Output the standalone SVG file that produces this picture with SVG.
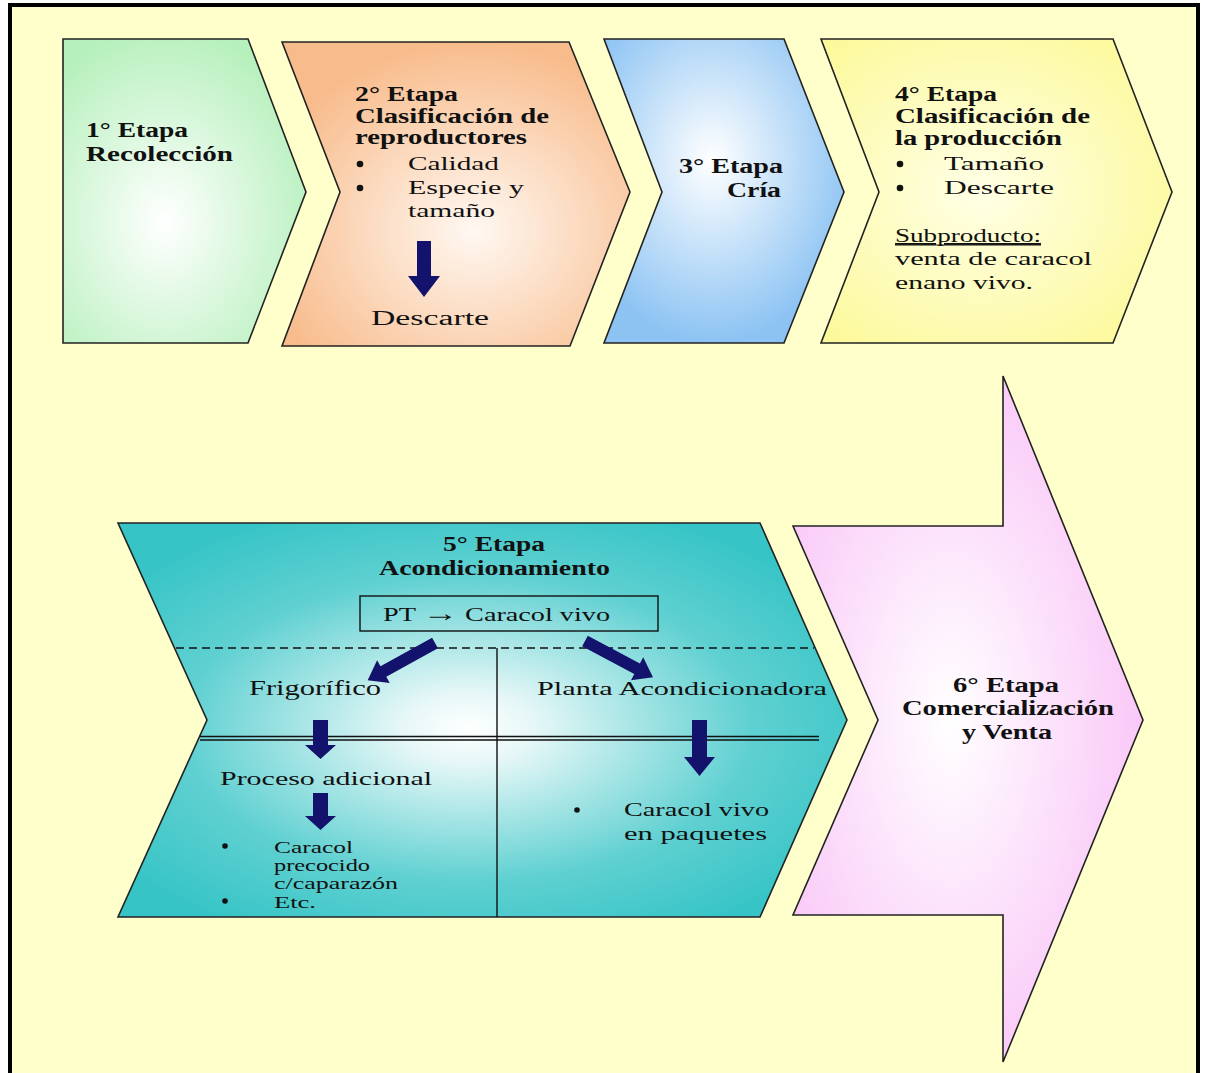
<svg xmlns="http://www.w3.org/2000/svg" width="1207" height="1073" viewBox="0 0 1207 1073">
<style>
.t{font-family:"Liberation Serif","Times New Roman",serif;fill:#111;}
.b{font-weight:bold;font-size:20px;}
.r{font-size:19px;}
.s{font-size:17px;}
.shape{stroke:#222;stroke-width:1.6;stroke-linejoin:miter;}
.arr{fill:#13136E;stroke:none;}
.ln{stroke:#111;stroke-width:1.4;fill:none;}
.dot{fill:#111;}
</style>
<defs>
<radialGradient id="gGreen" cx="0.42" cy="0.6" r="0.65">
<stop offset="0" stop-color="#FFFFFF"/><stop offset="1" stop-color="#B6F0BC"/>
</radialGradient>
<radialGradient id="gOrange" cx="0.55" cy="0.62" r="0.62">
<stop offset="0" stop-color="#FFF8F2"/><stop offset="1" stop-color="#F8BC8C"/>
</radialGradient>
<radialGradient id="gBlue" cx="0.45" cy="0.4" r="0.6">
<stop offset="0" stop-color="#FFFFFF"/><stop offset="1" stop-color="#8CC3F3"/>
</radialGradient>
<radialGradient id="gYellow" cx="0.45" cy="0.5" r="0.65">
<stop offset="0" stop-color="#FFFFE6"/><stop offset="1" stop-color="#FCF99A"/>
</radialGradient>
<radialGradient id="gTeal" cx="0.48" cy="0.52" r="0.6">
<stop offset="0" stop-color="#FFFFFF"/><stop offset="0.15" stop-color="#E6F7F7"/><stop offset="0.65" stop-color="#5FD0D1"/><stop offset="1" stop-color="#36C4C6"/>
</radialGradient>
<radialGradient id="gPink" cx="0.45" cy="0.5" r="0.6">
<stop offset="0" stop-color="#FFFFFF"/><stop offset="1" stop-color="#F9C3F7"/>
</radialGradient>
</defs>

<rect x="0" y="0" width="1207" height="1073" fill="#FFFFFF"/>
<g id="frame">
<rect x="10" y="5" width="1188" height="1080" fill="#FFFFCC" stroke="#000" stroke-width="4"/>
</g>

<g id="stage1">
<path class="shape" fill="url(#gGreen)" d="M63,39 H248 L306,192 L248,343 H63 Z"/>
<text class="t b" x="86" y="137" textLength="102" lengthAdjust="spacingAndGlyphs">1°  Etapa</text>
<text class="t b" x="86" y="161" textLength="147" lengthAdjust="spacingAndGlyphs">Recolección</text>
</g>

<g id="stage2">
<path class="shape" fill="url(#gOrange)" d="M282,42 H569 L630,192 L570,346 H282 L340,192 Z"/>
<text class="t b" x="355" y="101" textLength="103" lengthAdjust="spacingAndGlyphs">2°  Etapa</text>
<text class="t b" x="355" y="123" textLength="194" lengthAdjust="spacingAndGlyphs">Clasificación de</text>
<text class="t b" x="355" y="144" textLength="172" lengthAdjust="spacingAndGlyphs">reproductores</text>
<circle class="dot" cx="360" cy="164" r="3.3"/>
<text class="t r" x="408" y="170" textLength="91" lengthAdjust="spacingAndGlyphs">Calidad</text>
<circle class="dot" cx="360" cy="188" r="3.3"/>
<text class="t r" x="408" y="194" textLength="116" lengthAdjust="spacingAndGlyphs">Especie y</text>
<text class="t r" x="408" y="217" textLength="87" lengthAdjust="spacingAndGlyphs">tamaño</text>
<text class="t r" x="371" y="325" textLength="118" lengthAdjust="spacingAndGlyphs" style="font-size:20px">Descarte</text>
</g>

<g id="stage3">
<path class="shape" fill="url(#gBlue)" d="M604,39 H784 L844,192 L784,343 H604 L662,192 Z"/>
<text class="t b" x="679" y="173" textLength="104" lengthAdjust="spacingAndGlyphs">3°  Etapa</text>
<text class="t b" x="727" y="197" textLength="54" lengthAdjust="spacingAndGlyphs">Cría</text>
</g>

<g id="stage4">
<path class="shape" fill="url(#gYellow)" d="M821,39 H1113 L1172,192 L1113,343 H821 L879,192 Z"/>
<text class="t b" x="895" y="101" textLength="102" lengthAdjust="spacingAndGlyphs">4°  Etapa</text>
<text class="t b" x="895" y="123" textLength="195" lengthAdjust="spacingAndGlyphs">Clasificación de</text>
<text class="t b" x="895" y="145" textLength="167" lengthAdjust="spacingAndGlyphs">la producción</text>
<circle class="dot" cx="900" cy="164" r="3.3"/>
<text class="t r" x="944" y="170" textLength="100" lengthAdjust="spacingAndGlyphs">Tamaño</text>
<circle class="dot" cx="900" cy="188" r="3.3"/>
<text class="t r" x="944" y="194" textLength="110" lengthAdjust="spacingAndGlyphs">Descarte</text>
<text class="t r" x="895" y="242" textLength="146" lengthAdjust="spacingAndGlyphs" text-decoration="underline">Subproducto:</text>
<line x1="895" y1="245" x2="1041" y2="245" stroke="#111" stroke-width="1.2"/>
<text class="t r" x="895" y="265" textLength="197" lengthAdjust="spacingAndGlyphs">venta de caracol</text>
<text class="t r" x="895" y="289" textLength="138" lengthAdjust="spacingAndGlyphs">enano vivo.</text>
</g>

<g id="stage5">
<path class="shape" fill="url(#gTeal)" d="M118,523 H760 L847,720 L760,917 H118 L207,720 Z"/>
<line class="ln" x1="176" y1="648" x2="814" y2="648" stroke-dasharray="8,5" stroke-width="1.2"/>
<line class="ln" x1="200" y1="736.5" x2="819" y2="736.5" stroke-width="1.3"/>
<line class="ln" x1="200" y1="740" x2="819" y2="740" stroke-width="1.3"/>
<line class="ln" x1="497" y1="648" x2="497" y2="917" stroke-width="1.5"/>
<rect x="360" y="596" width="298" height="35" fill="none" stroke="#111" stroke-width="1.4"/>
<text class="t b" x="443" y="551" textLength="102" lengthAdjust="spacingAndGlyphs">5°  Etapa</text>
<text class="t b" x="379" y="575" textLength="231" lengthAdjust="spacingAndGlyphs">Acondicionamiento</text>
<text class="t r" x="383" y="621" textLength="227" lengthAdjust="spacingAndGlyphs" style="font-size:19px">PT <tspan style="font-size:24px">→</tspan> Caracol vivo</text>
<text class="t r" x="249" y="695" textLength="132" lengthAdjust="spacingAndGlyphs" style="font-size:20px">Frigorífico</text>
<text class="t r" x="537" y="695" textLength="290" lengthAdjust="spacingAndGlyphs">Planta Acondicionadora</text>
<text class="t r" x="220" y="785" textLength="212" lengthAdjust="spacingAndGlyphs">Proceso adicional</text>
<circle class="dot" cx="225" cy="846" r="2.8"/>
<text class="t s" x="274" y="853" textLength="79" lengthAdjust="spacingAndGlyphs">Caracol</text>
<text class="t s" x="274" y="871" textLength="96" lengthAdjust="spacingAndGlyphs">precocido</text>
<text class="t s" x="274" y="889" textLength="124" lengthAdjust="spacingAndGlyphs">c/caparazón</text>
<circle class="dot" cx="225" cy="901" r="2.8"/>
<text class="t s" x="274" y="908" textLength="42" lengthAdjust="spacingAndGlyphs">Etc.</text>
<circle class="dot" cx="577" cy="810" r="2.8"/>
<text class="t r" x="624" y="816" textLength="145" lengthAdjust="spacingAndGlyphs">Caracol vivo</text>
<text class="t r" x="624" y="840" textLength="143" lengthAdjust="spacingAndGlyphs">en paquetes</text>
</g>

<g id="stage6">
<path class="shape" fill="url(#gPink)" d="M1003,376 L1143,720 L1003,1062 V915 H793 L878,720 L793,526 H1003 Z"/>
<text class="t b" x="953" y="692" textLength="106" lengthAdjust="spacingAndGlyphs">6°  Etapa</text>
<text class="t b" x="902" y="715" textLength="212" lengthAdjust="spacingAndGlyphs">Comercialización</text>
<text class="t b" x="962" y="739" textLength="90" lengthAdjust="spacingAndGlyphs">y Venta</text>
</g>

<g id="connectors">
<polygon class="arr" points="417,241 431,241 431,276 440,276 424,297 408,276 417,276"/>
<polygon class="arr" points="313,720 328,720 328,745 336,745 320.5,759 305,745 313,745"/>
<polygon class="arr" points="313,793 328,793 328,816 336,816 320.5,830 305,816 313,816"/>
<polygon class="arr" points="692,720 707,720 707,757 715,757 699.5,776 684,757 692,757"/>
<polygon class="arr" transform="translate(435,643) rotate(151)" points="0,-6 59,-6 59,-13 77,0 59,13 59,6 0,6"/>
<polygon class="arr" transform="translate(585,641) rotate(28)" points="0,-6 59,-6 59,-13 77,0 59,13 59,6 0,6"/>
</g>
</svg>
